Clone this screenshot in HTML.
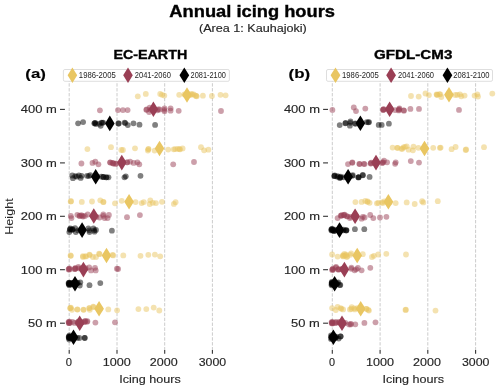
<!DOCTYPE html>
<html><head><meta charset="utf-8"><style>html,body{margin:0;padding:0;background:#fff;width:500px;height:390px;overflow:hidden}svg{display:block}</style></head>
<body>
<svg width="500" height="390" viewBox="0 0 500 390">
<rect width="500" height="390" fill="#ffffff"/>
<g opacity="0.999">
<line x1="69.2" y1="70" stroke-dashoffset="1.45" x2="69.2" y2="350" stroke="#cccccc" stroke-width="1" stroke-dasharray="3.4 1.485"/>
<line x1="69.2" y1="350" x2="69.2" y2="353.8" stroke="#333333" stroke-width="1.1"/>
<line x1="117.0" y1="70" stroke-dashoffset="1.45" x2="117.0" y2="350" stroke="#cccccc" stroke-width="1" stroke-dasharray="3.4 1.485"/>
<line x1="117.0" y1="350" x2="117.0" y2="353.8" stroke="#333333" stroke-width="1.1"/>
<line x1="164.7" y1="70" stroke-dashoffset="1.45" x2="164.7" y2="350" stroke="#cccccc" stroke-width="1" stroke-dasharray="3.4 1.485"/>
<line x1="164.7" y1="350" x2="164.7" y2="353.8" stroke="#333333" stroke-width="1.1"/>
<line x1="212.4" y1="70" stroke-dashoffset="1.45" x2="212.4" y2="350" stroke="#cccccc" stroke-width="1" stroke-dasharray="3.4 1.485"/>
<line x1="212.4" y1="350" x2="212.4" y2="353.8" stroke="#333333" stroke-width="1.1"/>
<line x1="60.0" y1="109.4" x2="64.9" y2="109.4" stroke="#333333" stroke-width="1.1"/>
<line x1="60.0" y1="162.9" x2="64.9" y2="162.9" stroke="#333333" stroke-width="1.1"/>
<line x1="60.0" y1="216.3" x2="64.9" y2="216.3" stroke="#333333" stroke-width="1.1"/>
<line x1="60.0" y1="269.7" x2="64.9" y2="269.7" stroke="#333333" stroke-width="1.1"/>
<line x1="60.0" y1="323.2" x2="64.9" y2="323.2" stroke="#333333" stroke-width="1.1"/>
<circle cx="185.30" cy="94.80" r="2.9" fill="#e9c662" fill-opacity="0.5"/>
<circle cx="188.30" cy="95.30" r="2.9" fill="#e9c662" fill-opacity="0.5"/>
<circle cx="192.30" cy="94.30" r="2.9" fill="#e9c662" fill-opacity="0.5"/>
<circle cx="196.30" cy="95.80" r="2.9" fill="#e9c662" fill-opacity="0.5"/>
<circle cx="190.30" cy="95.10" r="2.9" fill="#e9c662" fill-opacity="0.5"/>
<circle cx="137.80" cy="96.30" r="2.9" fill="#e9c662" fill-opacity="0.5"/>
<circle cx="145.80" cy="93.90" r="2.9" fill="#e9c662" fill-opacity="0.5"/>
<circle cx="160.20" cy="93.90" r="2.9" fill="#e9c662" fill-opacity="0.5"/>
<circle cx="162.00" cy="94.80" r="2.9" fill="#e9c662" fill-opacity="0.5"/>
<circle cx="164.30" cy="95.60" r="2.9" fill="#e9c662" fill-opacity="0.5"/>
<circle cx="179.20" cy="94.80" r="2.9" fill="#e9c662" fill-opacity="0.5"/>
<circle cx="184.40" cy="94.30" r="2.9" fill="#e9c662" fill-opacity="0.5"/>
<circle cx="191.20" cy="93.80" r="2.9" fill="#e9c662" fill-opacity="0.5"/>
<circle cx="193.70" cy="94.40" r="2.9" fill="#e9c662" fill-opacity="0.5"/>
<circle cx="195.50" cy="95.70" r="2.9" fill="#e9c662" fill-opacity="0.5"/>
<circle cx="196.70" cy="96.30" r="2.9" fill="#e9c662" fill-opacity="0.5"/>
<circle cx="202.90" cy="95.70" r="2.9" fill="#e9c662" fill-opacity="0.5"/>
<circle cx="211.90" cy="96.00" r="2.9" fill="#e9c662" fill-opacity="0.5"/>
<circle cx="220.50" cy="94.80" r="2.9" fill="#e9c662" fill-opacity="0.5"/>
<circle cx="225.60" cy="95.30" r="2.9" fill="#e9c662" fill-opacity="0.5"/>
<circle cx="146.30" cy="109.80" r="2.9" fill="#9a3f55" fill-opacity="0.5"/>
<circle cx="153.30" cy="109.80" r="2.9" fill="#9a3f55" fill-opacity="0.5"/>
<circle cx="158.30" cy="109.30" r="2.9" fill="#9a3f55" fill-opacity="0.5"/>
<circle cx="164.30" cy="109.80" r="2.9" fill="#9a3f55" fill-opacity="0.5"/>
<circle cx="157.30" cy="110.30" r="2.9" fill="#9a3f55" fill-opacity="0.5"/>
<circle cx="99.90" cy="110.30" r="2.9" fill="#9a3f55" fill-opacity="0.5"/>
<circle cx="150.80" cy="109.80" r="2.9" fill="#9a3f55" fill-opacity="0.5"/>
<circle cx="118.00" cy="110.10" r="2.9" fill="#9a3f55" fill-opacity="0.5"/>
<circle cx="122.90" cy="110.10" r="2.9" fill="#9a3f55" fill-opacity="0.5"/>
<circle cx="127.60" cy="110.10" r="2.9" fill="#9a3f55" fill-opacity="0.5"/>
<circle cx="146.70" cy="109.50" r="2.9" fill="#9a3f55" fill-opacity="0.5"/>
<circle cx="149.70" cy="107.70" r="2.9" fill="#9a3f55" fill-opacity="0.5"/>
<circle cx="149.10" cy="112.00" r="2.9" fill="#9a3f55" fill-opacity="0.5"/>
<circle cx="159.60" cy="109.50" r="2.9" fill="#9a3f55" fill-opacity="0.5"/>
<circle cx="164.50" cy="108.30" r="2.9" fill="#9a3f55" fill-opacity="0.5"/>
<circle cx="164.50" cy="111.30" r="2.9" fill="#9a3f55" fill-opacity="0.5"/>
<circle cx="170.60" cy="108.30" r="2.9" fill="#9a3f55" fill-opacity="0.5"/>
<circle cx="170.60" cy="110.70" r="2.9" fill="#9a3f55" fill-opacity="0.5"/>
<circle cx="178.70" cy="110.80" r="2.9" fill="#9a3f55" fill-opacity="0.5"/>
<circle cx="221.00" cy="111.00" r="2.9" fill="#9a3f55" fill-opacity="0.5"/>
<circle cx="94.30" cy="123.30" r="2.9" fill="#000000" fill-opacity="0.5"/>
<circle cx="99.30" cy="123.80" r="2.9" fill="#000000" fill-opacity="0.5"/>
<circle cx="102.30" cy="122.80" r="2.9" fill="#000000" fill-opacity="0.5"/>
<circle cx="110.30" cy="123.70" r="2.9" fill="#000000" fill-opacity="0.5"/>
<circle cx="118.30" cy="123.50" r="2.9" fill="#000000" fill-opacity="0.5"/>
<circle cx="78.10" cy="123.30" r="2.9" fill="#000000" fill-opacity="0.5"/>
<circle cx="83.10" cy="122.10" r="2.9" fill="#000000" fill-opacity="0.5"/>
<circle cx="94.80" cy="123.10" r="2.9" fill="#000000" fill-opacity="0.5"/>
<circle cx="95.80" cy="124.10" r="2.9" fill="#000000" fill-opacity="0.5"/>
<circle cx="95.30" cy="122.80" r="2.9" fill="#000000" fill-opacity="0.5"/>
<circle cx="101.40" cy="122.60" r="2.9" fill="#000000" fill-opacity="0.5"/>
<circle cx="100.70" cy="125.80" r="2.9" fill="#000000" fill-opacity="0.5"/>
<circle cx="103.20" cy="122.60" r="2.9" fill="#000000" fill-opacity="0.5"/>
<circle cx="118.80" cy="123.50" r="2.9" fill="#000000" fill-opacity="0.5"/>
<circle cx="124.60" cy="122.60" r="2.9" fill="#000000" fill-opacity="0.5"/>
<circle cx="125.30" cy="123.10" r="2.9" fill="#000000" fill-opacity="0.5"/>
<circle cx="127.80" cy="125.10" r="2.9" fill="#000000" fill-opacity="0.5"/>
<circle cx="133.50" cy="123.30" r="2.9" fill="#000000" fill-opacity="0.5"/>
<circle cx="139.50" cy="124.70" r="2.9" fill="#000000" fill-opacity="0.5"/>
<circle cx="155.10" cy="124.90" r="2.9" fill="#000000" fill-opacity="0.5"/>
<circle cx="148.30" cy="149.30" r="2.9" fill="#e9c662" fill-opacity="0.5"/>
<circle cx="159.80" cy="148.80" r="2.9" fill="#e9c662" fill-opacity="0.5"/>
<circle cx="179.30" cy="149.10" r="2.9" fill="#e9c662" fill-opacity="0.5"/>
<circle cx="87.40" cy="149.10" r="2.9" fill="#e9c662" fill-opacity="0.5"/>
<circle cx="111.00" cy="147.20" r="2.9" fill="#e9c662" fill-opacity="0.5"/>
<circle cx="121.30" cy="150.00" r="2.9" fill="#e9c662" fill-opacity="0.5"/>
<circle cx="122.90" cy="150.00" r="2.9" fill="#e9c662" fill-opacity="0.5"/>
<circle cx="135.00" cy="148.30" r="2.9" fill="#e9c662" fill-opacity="0.5"/>
<circle cx="148.50" cy="148.80" r="2.9" fill="#e9c662" fill-opacity="0.5"/>
<circle cx="147.90" cy="150.60" r="2.9" fill="#e9c662" fill-opacity="0.5"/>
<circle cx="154.60" cy="150.60" r="2.9" fill="#e9c662" fill-opacity="0.5"/>
<circle cx="168.20" cy="149.60" r="2.9" fill="#e9c662" fill-opacity="0.5"/>
<circle cx="173.70" cy="149.30" r="2.9" fill="#e9c662" fill-opacity="0.5"/>
<circle cx="175.20" cy="149.10" r="2.9" fill="#e9c662" fill-opacity="0.5"/>
<circle cx="177.70" cy="148.80" r="2.9" fill="#e9c662" fill-opacity="0.5"/>
<circle cx="180.10" cy="149.30" r="2.9" fill="#e9c662" fill-opacity="0.5"/>
<circle cx="182.60" cy="148.40" r="2.9" fill="#e9c662" fill-opacity="0.5"/>
<circle cx="201.00" cy="147.20" r="2.9" fill="#e9c662" fill-opacity="0.5"/>
<circle cx="204.10" cy="150.30" r="2.9" fill="#e9c662" fill-opacity="0.5"/>
<circle cx="208.40" cy="149.70" r="2.9" fill="#e9c662" fill-opacity="0.5"/>
<circle cx="110.30" cy="162.60" r="2.9" fill="#9a3f55" fill-opacity="0.5"/>
<circle cx="113.30" cy="163.30" r="2.9" fill="#9a3f55" fill-opacity="0.5"/>
<circle cx="116.30" cy="163.50" r="2.9" fill="#9a3f55" fill-opacity="0.5"/>
<circle cx="122.10" cy="162.90" r="2.9" fill="#9a3f55" fill-opacity="0.5"/>
<circle cx="127.30" cy="162.30" r="2.9" fill="#9a3f55" fill-opacity="0.5"/>
<circle cx="112.30" cy="162.80" r="2.9" fill="#9a3f55" fill-opacity="0.5"/>
<circle cx="81.40" cy="163.50" r="2.9" fill="#9a3f55" fill-opacity="0.5"/>
<circle cx="92.50" cy="162.90" r="2.9" fill="#9a3f55" fill-opacity="0.5"/>
<circle cx="95.30" cy="161.70" r="2.9" fill="#9a3f55" fill-opacity="0.5"/>
<circle cx="98.40" cy="164.30" r="2.9" fill="#9a3f55" fill-opacity="0.5"/>
<circle cx="110.10" cy="162.30" r="2.9" fill="#9a3f55" fill-opacity="0.5"/>
<circle cx="113.20" cy="163.50" r="2.9" fill="#9a3f55" fill-opacity="0.5"/>
<circle cx="115.60" cy="163.90" r="2.9" fill="#9a3f55" fill-opacity="0.5"/>
<circle cx="127.00" cy="162.30" r="2.9" fill="#9a3f55" fill-opacity="0.5"/>
<circle cx="130.10" cy="161.70" r="2.9" fill="#9a3f55" fill-opacity="0.5"/>
<circle cx="133.70" cy="162.90" r="2.9" fill="#9a3f55" fill-opacity="0.5"/>
<circle cx="137.40" cy="162.30" r="2.9" fill="#9a3f55" fill-opacity="0.5"/>
<circle cx="139.30" cy="164.30" r="2.9" fill="#9a3f55" fill-opacity="0.5"/>
<circle cx="173.20" cy="164.30" r="2.9" fill="#9a3f55" fill-opacity="0.5"/>
<circle cx="194.00" cy="162.00" r="2.9" fill="#9a3f55" fill-opacity="0.5"/>
<circle cx="103.30" cy="177.00" r="2.9" fill="#000000" fill-opacity="0.5"/>
<circle cx="106.30" cy="177.30" r="2.9" fill="#000000" fill-opacity="0.5"/>
<circle cx="96.00" cy="177.00" r="2.9" fill="#000000" fill-opacity="0.5"/>
<circle cx="72.30" cy="175.50" r="2.9" fill="#000000" fill-opacity="0.5"/>
<circle cx="72.90" cy="178.20" r="2.9" fill="#000000" fill-opacity="0.5"/>
<circle cx="75.30" cy="176.10" r="2.9" fill="#000000" fill-opacity="0.5"/>
<circle cx="76.80" cy="176.70" r="2.9" fill="#000000" fill-opacity="0.5"/>
<circle cx="78.90" cy="175.50" r="2.9" fill="#000000" fill-opacity="0.5"/>
<circle cx="80.70" cy="177.90" r="2.9" fill="#000000" fill-opacity="0.5"/>
<circle cx="81.60" cy="175.80" r="2.9" fill="#000000" fill-opacity="0.5"/>
<circle cx="87.00" cy="175.80" r="2.9" fill="#000000" fill-opacity="0.5"/>
<circle cx="88.80" cy="176.10" r="2.9" fill="#000000" fill-opacity="0.5"/>
<circle cx="90.30" cy="175.20" r="2.9" fill="#000000" fill-opacity="0.5"/>
<circle cx="101.30" cy="176.70" r="2.9" fill="#000000" fill-opacity="0.5"/>
<circle cx="103.40" cy="177.00" r="2.9" fill="#000000" fill-opacity="0.5"/>
<circle cx="106.40" cy="177.30" r="2.9" fill="#000000" fill-opacity="0.5"/>
<circle cx="108.50" cy="177.30" r="2.9" fill="#000000" fill-opacity="0.5"/>
<circle cx="124.50" cy="177.30" r="2.9" fill="#000000" fill-opacity="0.5"/>
<circle cx="125.80" cy="176.30" r="2.9" fill="#000000" fill-opacity="0.5"/>
<circle cx="140.50" cy="175.80" r="2.9" fill="#000000" fill-opacity="0.5"/>
<circle cx="71.10" cy="201.20" r="2.9" fill="#e9c662" fill-opacity="0.5"/>
<circle cx="81.80" cy="201.90" r="2.9" fill="#e9c662" fill-opacity="0.5"/>
<circle cx="92.00" cy="201.50" r="2.9" fill="#e9c662" fill-opacity="0.5"/>
<circle cx="100.30" cy="200.30" r="2.9" fill="#e9c662" fill-opacity="0.5"/>
<circle cx="103.30" cy="202.10" r="2.9" fill="#e9c662" fill-opacity="0.5"/>
<circle cx="115.00" cy="203.30" r="2.9" fill="#e9c662" fill-opacity="0.5"/>
<circle cx="121.70" cy="200.80" r="2.9" fill="#e9c662" fill-opacity="0.5"/>
<circle cx="135.60" cy="202.10" r="2.9" fill="#e9c662" fill-opacity="0.5"/>
<circle cx="141.70" cy="203.10" r="2.9" fill="#e9c662" fill-opacity="0.5"/>
<circle cx="143.80" cy="202.10" r="2.9" fill="#e9c662" fill-opacity="0.5"/>
<circle cx="150.30" cy="200.30" r="2.9" fill="#e9c662" fill-opacity="0.5"/>
<circle cx="149.70" cy="204.00" r="2.9" fill="#e9c662" fill-opacity="0.5"/>
<circle cx="152.80" cy="202.80" r="2.9" fill="#e9c662" fill-opacity="0.5"/>
<circle cx="155.90" cy="203.10" r="2.9" fill="#e9c662" fill-opacity="0.5"/>
<circle cx="162.00" cy="201.80" r="2.9" fill="#e9c662" fill-opacity="0.5"/>
<circle cx="173.90" cy="203.90" r="2.9" fill="#e9c662" fill-opacity="0.5"/>
<circle cx="175.60" cy="202.20" r="2.9" fill="#e9c662" fill-opacity="0.5"/>
<circle cx="70.70" cy="201.50" r="2.9" fill="#e9c662" fill-opacity="0.5"/>
<circle cx="103.50" cy="201.90" r="2.9" fill="#e9c662" fill-opacity="0.5"/>
<circle cx="129.30" cy="202.30" r="2.9" fill="#e9c662" fill-opacity="0.5"/>
<circle cx="70.80" cy="215.90" r="2.9" fill="#9a3f55" fill-opacity="0.5"/>
<circle cx="71.50" cy="218.10" r="2.9" fill="#9a3f55" fill-opacity="0.5"/>
<circle cx="77.30" cy="214.80" r="2.9" fill="#9a3f55" fill-opacity="0.5"/>
<circle cx="79.50" cy="215.90" r="2.9" fill="#9a3f55" fill-opacity="0.5"/>
<circle cx="81.30" cy="215.20" r="2.9" fill="#9a3f55" fill-opacity="0.5"/>
<circle cx="83.10" cy="216.60" r="2.9" fill="#9a3f55" fill-opacity="0.5"/>
<circle cx="84.90" cy="215.90" r="2.9" fill="#9a3f55" fill-opacity="0.5"/>
<circle cx="87.70" cy="214.50" r="2.9" fill="#9a3f55" fill-opacity="0.5"/>
<circle cx="99.60" cy="217.50" r="2.9" fill="#9a3f55" fill-opacity="0.5"/>
<circle cx="103.30" cy="214.40" r="2.9" fill="#9a3f55" fill-opacity="0.5"/>
<circle cx="104.60" cy="218.10" r="2.9" fill="#9a3f55" fill-opacity="0.5"/>
<circle cx="108.90" cy="215.00" r="2.9" fill="#9a3f55" fill-opacity="0.5"/>
<circle cx="107.60" cy="218.10" r="2.9" fill="#9a3f55" fill-opacity="0.5"/>
<circle cx="127.00" cy="217.20" r="2.9" fill="#9a3f55" fill-opacity="0.5"/>
<circle cx="139.90" cy="215.10" r="2.9" fill="#9a3f55" fill-opacity="0.5"/>
<circle cx="79.80" cy="215.80" r="2.9" fill="#9a3f55" fill-opacity="0.5"/>
<circle cx="82.30" cy="215.80" r="2.9" fill="#9a3f55" fill-opacity="0.5"/>
<circle cx="93.30" cy="216.30" r="2.9" fill="#9a3f55" fill-opacity="0.5"/>
<circle cx="96.30" cy="216.80" r="2.9" fill="#9a3f55" fill-opacity="0.5"/>
<circle cx="103.30" cy="215.80" r="2.9" fill="#9a3f55" fill-opacity="0.5"/>
<circle cx="77.90" cy="230.30" r="2.9" fill="#000000" fill-opacity="0.5"/>
<circle cx="69.30" cy="232.10" r="2.9" fill="#000000" fill-opacity="0.5"/>
<circle cx="70.40" cy="228.50" r="2.9" fill="#000000" fill-opacity="0.5"/>
<circle cx="72.20" cy="229.60" r="2.9" fill="#000000" fill-opacity="0.5"/>
<circle cx="75.10" cy="228.10" r="2.9" fill="#000000" fill-opacity="0.5"/>
<circle cx="75.80" cy="232.10" r="2.9" fill="#000000" fill-opacity="0.5"/>
<circle cx="88.40" cy="228.50" r="2.9" fill="#000000" fill-opacity="0.5"/>
<circle cx="89.50" cy="232.10" r="2.9" fill="#000000" fill-opacity="0.5"/>
<circle cx="93.40" cy="228.50" r="2.9" fill="#000000" fill-opacity="0.5"/>
<circle cx="94.50" cy="231.70" r="2.9" fill="#000000" fill-opacity="0.5"/>
<circle cx="96.00" cy="229.90" r="2.9" fill="#000000" fill-opacity="0.5"/>
<circle cx="111.90" cy="230.70" r="2.9" fill="#000000" fill-opacity="0.5"/>
<circle cx="69.80" cy="229.80" r="2.9" fill="#000000" fill-opacity="0.5"/>
<circle cx="70.20" cy="229.20" r="2.9" fill="#000000" fill-opacity="0.5"/>
<circle cx="72.30" cy="229.80" r="2.9" fill="#000000" fill-opacity="0.5"/>
<circle cx="72.70" cy="229.20" r="2.9" fill="#000000" fill-opacity="0.5"/>
<circle cx="82.30" cy="230.30" r="2.9" fill="#000000" fill-opacity="0.5"/>
<circle cx="82.70" cy="229.70" r="2.9" fill="#000000" fill-opacity="0.5"/>
<circle cx="89.30" cy="230.30" r="2.9" fill="#000000" fill-opacity="0.5"/>
<circle cx="94.30" cy="230.30" r="2.9" fill="#000000" fill-opacity="0.5"/>
<circle cx="70.80" cy="255.80" r="2.9" fill="#e9c662" fill-opacity="0.5"/>
<circle cx="83.00" cy="257.00" r="2.9" fill="#e9c662" fill-opacity="0.5"/>
<circle cx="86.10" cy="256.40" r="2.9" fill="#e9c662" fill-opacity="0.5"/>
<circle cx="89.80" cy="255.10" r="2.9" fill="#e9c662" fill-opacity="0.5"/>
<circle cx="92.90" cy="257.00" r="2.9" fill="#e9c662" fill-opacity="0.5"/>
<circle cx="96.00" cy="257.00" r="2.9" fill="#e9c662" fill-opacity="0.5"/>
<circle cx="99.60" cy="254.20" r="2.9" fill="#e9c662" fill-opacity="0.5"/>
<circle cx="113.20" cy="255.40" r="2.9" fill="#e9c662" fill-opacity="0.5"/>
<circle cx="123.30" cy="255.40" r="2.9" fill="#e9c662" fill-opacity="0.5"/>
<circle cx="140.50" cy="255.80" r="2.9" fill="#e9c662" fill-opacity="0.5"/>
<circle cx="148.30" cy="254.80" r="2.9" fill="#e9c662" fill-opacity="0.5"/>
<circle cx="154.90" cy="254.60" r="2.9" fill="#e9c662" fill-opacity="0.5"/>
<circle cx="160.20" cy="256.30" r="2.9" fill="#e9c662" fill-opacity="0.5"/>
<circle cx="70.60" cy="255.50" r="2.9" fill="#e9c662" fill-opacity="0.5"/>
<circle cx="82.90" cy="256.10" r="2.9" fill="#e9c662" fill-opacity="0.5"/>
<circle cx="89.40" cy="254.60" r="2.9" fill="#e9c662" fill-opacity="0.5"/>
<circle cx="99.10" cy="253.70" r="2.9" fill="#e9c662" fill-opacity="0.5"/>
<circle cx="106.30" cy="255.80" r="2.9" fill="#e9c662" fill-opacity="0.5"/>
<circle cx="112.60" cy="254.90" r="2.9" fill="#e9c662" fill-opacity="0.5"/>
<circle cx="85.30" cy="256.30" r="2.9" fill="#e9c662" fill-opacity="0.5"/>
<circle cx="75.30" cy="268.80" r="2.9" fill="#9a3f55" fill-opacity="0.5"/>
<circle cx="78.80" cy="268.30" r="2.9" fill="#9a3f55" fill-opacity="0.5"/>
<circle cx="69.00" cy="268.90" r="2.9" fill="#9a3f55" fill-opacity="0.5"/>
<circle cx="69.40" cy="268.30" r="2.9" fill="#9a3f55" fill-opacity="0.5"/>
<circle cx="68.60" cy="269.50" r="2.9" fill="#9a3f55" fill-opacity="0.5"/>
<circle cx="69.60" cy="269.40" r="2.9" fill="#9a3f55" fill-opacity="0.5"/>
<circle cx="75.00" cy="268.60" r="2.9" fill="#9a3f55" fill-opacity="0.5"/>
<circle cx="75.40" cy="268.00" r="2.9" fill="#9a3f55" fill-opacity="0.5"/>
<circle cx="74.60" cy="269.20" r="2.9" fill="#9a3f55" fill-opacity="0.5"/>
<circle cx="78.40" cy="267.00" r="2.9" fill="#9a3f55" fill-opacity="0.5"/>
<circle cx="81.30" cy="268.80" r="2.9" fill="#9a3f55" fill-opacity="0.5"/>
<circle cx="81.70" cy="268.20" r="2.9" fill="#9a3f55" fill-opacity="0.5"/>
<circle cx="85.30" cy="268.80" r="2.9" fill="#9a3f55" fill-opacity="0.5"/>
<circle cx="85.70" cy="268.20" r="2.9" fill="#9a3f55" fill-opacity="0.5"/>
<circle cx="89.20" cy="267.40" r="2.9" fill="#9a3f55" fill-opacity="0.5"/>
<circle cx="91.00" cy="270.40" r="2.9" fill="#9a3f55" fill-opacity="0.5"/>
<circle cx="95.00" cy="267.80" r="2.9" fill="#9a3f55" fill-opacity="0.5"/>
<circle cx="95.70" cy="270.40" r="2.9" fill="#9a3f55" fill-opacity="0.5"/>
<circle cx="116.90" cy="268.70" r="2.9" fill="#9a3f55" fill-opacity="0.5"/>
<circle cx="118.10" cy="269.00" r="2.9" fill="#9a3f55" fill-opacity="0.5"/>
<circle cx="69.30" cy="282.70" r="2.9" fill="#000000" fill-opacity="0.5"/>
<circle cx="69.30" cy="285.20" r="2.9" fill="#000000" fill-opacity="0.5"/>
<circle cx="72.30" cy="283.50" r="2.9" fill="#000000" fill-opacity="0.5"/>
<circle cx="80.30" cy="282.30" r="2.9" fill="#000000" fill-opacity="0.5"/>
<circle cx="79.80" cy="285.60" r="2.9" fill="#000000" fill-opacity="0.5"/>
<circle cx="89.50" cy="285.20" r="2.9" fill="#000000" fill-opacity="0.5"/>
<circle cx="100.30" cy="283.10" r="2.9" fill="#000000" fill-opacity="0.5"/>
<circle cx="69.10" cy="283.50" r="2.9" fill="#000000" fill-opacity="0.5"/>
<circle cx="69.50" cy="282.90" r="2.9" fill="#000000" fill-opacity="0.5"/>
<circle cx="68.70" cy="284.10" r="2.9" fill="#000000" fill-opacity="0.5"/>
<circle cx="69.70" cy="284.00" r="2.9" fill="#000000" fill-opacity="0.5"/>
<circle cx="68.60" cy="283.00" r="2.9" fill="#000000" fill-opacity="0.5"/>
<circle cx="69.30" cy="284.40" r="2.9" fill="#000000" fill-opacity="0.5"/>
<circle cx="71.30" cy="283.80" r="2.9" fill="#000000" fill-opacity="0.5"/>
<circle cx="71.70" cy="283.20" r="2.9" fill="#000000" fill-opacity="0.5"/>
<circle cx="70.90" cy="284.40" r="2.9" fill="#000000" fill-opacity="0.5"/>
<circle cx="73.30" cy="283.30" r="2.9" fill="#000000" fill-opacity="0.5"/>
<circle cx="73.70" cy="282.70" r="2.9" fill="#000000" fill-opacity="0.5"/>
<circle cx="77.30" cy="283.30" r="2.9" fill="#000000" fill-opacity="0.5"/>
<circle cx="77.70" cy="282.70" r="2.9" fill="#000000" fill-opacity="0.5"/>
<circle cx="70.10" cy="308.10" r="2.9" fill="#e9c662" fill-opacity="0.5"/>
<circle cx="72.00" cy="309.80" r="2.9" fill="#e9c662" fill-opacity="0.5"/>
<circle cx="77.50" cy="309.60" r="2.9" fill="#e9c662" fill-opacity="0.5"/>
<circle cx="83.70" cy="309.80" r="2.9" fill="#e9c662" fill-opacity="0.5"/>
<circle cx="89.20" cy="308.10" r="2.9" fill="#e9c662" fill-opacity="0.5"/>
<circle cx="89.80" cy="309.80" r="2.9" fill="#e9c662" fill-opacity="0.5"/>
<circle cx="93.50" cy="307.10" r="2.9" fill="#e9c662" fill-opacity="0.5"/>
<circle cx="108.30" cy="309.40" r="2.9" fill="#e9c662" fill-opacity="0.5"/>
<circle cx="117.10" cy="310.30" r="2.9" fill="#e9c662" fill-opacity="0.5"/>
<circle cx="138.40" cy="309.10" r="2.9" fill="#e9c662" fill-opacity="0.5"/>
<circle cx="146.30" cy="309.10" r="2.9" fill="#e9c662" fill-opacity="0.5"/>
<circle cx="153.70" cy="307.60" r="2.9" fill="#e9c662" fill-opacity="0.5"/>
<circle cx="159.30" cy="310.50" r="2.9" fill="#e9c662" fill-opacity="0.5"/>
<circle cx="70.50" cy="308.20" r="2.9" fill="#e9c662" fill-opacity="0.5"/>
<circle cx="70.90" cy="307.60" r="2.9" fill="#e9c662" fill-opacity="0.5"/>
<circle cx="83.40" cy="309.60" r="2.9" fill="#e9c662" fill-opacity="0.5"/>
<circle cx="89.40" cy="308.10" r="2.9" fill="#e9c662" fill-opacity="0.5"/>
<circle cx="93.20" cy="306.60" r="2.9" fill="#e9c662" fill-opacity="0.5"/>
<circle cx="77.30" cy="309.30" r="2.9" fill="#e9c662" fill-opacity="0.5"/>
<circle cx="100.30" cy="308.80" r="2.9" fill="#e9c662" fill-opacity="0.5"/>
<circle cx="69.10" cy="322.30" r="2.9" fill="#9a3f55" fill-opacity="0.5"/>
<circle cx="69.50" cy="321.70" r="2.9" fill="#9a3f55" fill-opacity="0.5"/>
<circle cx="68.70" cy="322.90" r="2.9" fill="#9a3f55" fill-opacity="0.5"/>
<circle cx="69.70" cy="322.80" r="2.9" fill="#9a3f55" fill-opacity="0.5"/>
<circle cx="68.60" cy="321.80" r="2.9" fill="#9a3f55" fill-opacity="0.5"/>
<circle cx="69.30" cy="323.20" r="2.9" fill="#9a3f55" fill-opacity="0.5"/>
<circle cx="72.60" cy="321.80" r="2.9" fill="#9a3f55" fill-opacity="0.5"/>
<circle cx="74.40" cy="322.90" r="2.9" fill="#9a3f55" fill-opacity="0.5"/>
<circle cx="78.00" cy="322.10" r="2.9" fill="#9a3f55" fill-opacity="0.5"/>
<circle cx="78.40" cy="321.50" r="2.9" fill="#9a3f55" fill-opacity="0.5"/>
<circle cx="77.60" cy="322.70" r="2.9" fill="#9a3f55" fill-opacity="0.5"/>
<circle cx="81.30" cy="322.60" r="2.9" fill="#9a3f55" fill-opacity="0.5"/>
<circle cx="81.70" cy="322.00" r="2.9" fill="#9a3f55" fill-opacity="0.5"/>
<circle cx="84.90" cy="321.50" r="2.9" fill="#9a3f55" fill-opacity="0.5"/>
<circle cx="85.30" cy="320.90" r="2.9" fill="#9a3f55" fill-opacity="0.5"/>
<circle cx="84.50" cy="322.10" r="2.9" fill="#9a3f55" fill-opacity="0.5"/>
<circle cx="87.00" cy="321.80" r="2.9" fill="#9a3f55" fill-opacity="0.5"/>
<circle cx="87.40" cy="321.20" r="2.9" fill="#9a3f55" fill-opacity="0.5"/>
<circle cx="95.40" cy="322.60" r="2.9" fill="#9a3f55" fill-opacity="0.5"/>
<circle cx="115.00" cy="322.30" r="2.9" fill="#9a3f55" fill-opacity="0.5"/>
<circle cx="69.50" cy="335.30" r="2.9" fill="#000000" fill-opacity="0.5"/>
<circle cx="69.20" cy="339.50" r="2.9" fill="#000000" fill-opacity="0.5"/>
<circle cx="70.70" cy="337.10" r="2.9" fill="#000000" fill-opacity="0.5"/>
<circle cx="79.40" cy="338.00" r="2.9" fill="#000000" fill-opacity="0.5"/>
<circle cx="84.80" cy="338.00" r="2.9" fill="#000000" fill-opacity="0.5"/>
<circle cx="84.60" cy="337.80" r="2.9" fill="#000000" fill-opacity="0.5"/>
<circle cx="69.20" cy="337.30" r="2.9" fill="#000000" fill-opacity="0.5"/>
<circle cx="69.60" cy="336.70" r="2.9" fill="#000000" fill-opacity="0.5"/>
<circle cx="68.80" cy="337.90" r="2.9" fill="#000000" fill-opacity="0.5"/>
<circle cx="69.80" cy="337.80" r="2.9" fill="#000000" fill-opacity="0.5"/>
<circle cx="68.70" cy="336.80" r="2.9" fill="#000000" fill-opacity="0.5"/>
<circle cx="69.40" cy="338.20" r="2.9" fill="#000000" fill-opacity="0.5"/>
<circle cx="69.00" cy="336.40" r="2.9" fill="#000000" fill-opacity="0.5"/>
<circle cx="70.00" cy="337.30" r="2.9" fill="#000000" fill-opacity="0.5"/>
<circle cx="71.30" cy="337.30" r="2.9" fill="#000000" fill-opacity="0.5"/>
<circle cx="71.70" cy="336.70" r="2.9" fill="#000000" fill-opacity="0.5"/>
<circle cx="70.90" cy="337.90" r="2.9" fill="#000000" fill-opacity="0.5"/>
<circle cx="74.30" cy="337.80" r="2.9" fill="#000000" fill-opacity="0.5"/>
<circle cx="74.70" cy="337.20" r="2.9" fill="#000000" fill-opacity="0.5"/>
<circle cx="77.30" cy="337.80" r="2.9" fill="#000000" fill-opacity="0.5"/>
<path d="M187.0 87.2L191.8 95.0L187.0 102.8L182.2 95.0Z" fill="#e9c662"/>
<path d="M153.4 101.4L158.2 109.2L153.4 117.0L148.6 109.2Z" fill="#9a3f55"/>
<path d="M109.8 115.6L114.6 123.4L109.8 131.2L105.0 123.4Z" fill="#000000"/>
<path d="M159.5 140.7L164.3 148.5L159.5 156.3L154.7 148.5Z" fill="#e9c662"/>
<path d="M121.8 154.8L126.6 162.6L121.8 170.4L117.0 162.6Z" fill="#9a3f55"/>
<path d="M95.7 168.9L100.5 176.7L95.7 184.5L90.9 176.7Z" fill="#000000"/>
<path d="M129.1 194.0L133.9 201.8L129.1 209.6L124.2 201.8Z" fill="#e9c662"/>
<path d="M93.8 208.2L98.6 216.0L93.8 223.8L89.0 216.0Z" fill="#9a3f55"/>
<path d="M82.1 222.3L86.9 230.1L82.1 237.9L77.2 230.1Z" fill="#000000"/>
<path d="M106.5 247.7L111.3 255.5L106.5 263.3L101.7 255.5Z" fill="#e9c662"/>
<path d="M83.4 261.8L88.2 269.6L83.4 277.4L78.6 269.6Z" fill="#9a3f55"/>
<path d="M75.0 275.9L79.8 283.7L75.0 291.5L70.2 283.7Z" fill="#000000"/>
<path d="M99.1 301.0L103.9 308.8L99.1 316.6L94.2 308.8Z" fill="#e9c662"/>
<path d="M79.7 315.4L84.5 323.2L79.7 331.0L74.9 323.2Z" fill="#9a3f55"/>
<path d="M73.5 329.5L78.3 337.3L73.5 345.1L68.7 337.3Z" fill="#000000"/>
<rect x="63.4" y="69.5" width="166" height="11.8" rx="1.5" fill="#ffffff" fill-opacity="1" stroke="#d6d6d6" stroke-width="0.8"/>
<path d="M72.4 67.4L77.2 75.2L72.4 83.0L67.6 75.2Z" fill="#e9c662"/>
<path d="M128.0 67.4L132.8 75.2L128.0 83.0L123.2 75.2Z" fill="#9a3f55"/>
<path d="M184.3 67.4L189.2 75.2L184.3 83.0L179.5 75.2Z" fill="#000000"/>
<line x1="332.3" y1="70" stroke-dashoffset="1.45" x2="332.3" y2="350" stroke="#cccccc" stroke-width="1" stroke-dasharray="3.4 1.485"/>
<line x1="332.3" y1="350" x2="332.3" y2="353.8" stroke="#333333" stroke-width="1.1"/>
<line x1="380.1" y1="70" stroke-dashoffset="1.45" x2="380.1" y2="350" stroke="#cccccc" stroke-width="1" stroke-dasharray="3.4 1.485"/>
<line x1="380.1" y1="350" x2="380.1" y2="353.8" stroke="#333333" stroke-width="1.1"/>
<line x1="427.8" y1="70" stroke-dashoffset="1.45" x2="427.8" y2="350" stroke="#cccccc" stroke-width="1" stroke-dasharray="3.4 1.485"/>
<line x1="427.8" y1="350" x2="427.8" y2="353.8" stroke="#333333" stroke-width="1.1"/>
<line x1="475.6" y1="70" stroke-dashoffset="1.45" x2="475.6" y2="350" stroke="#cccccc" stroke-width="1" stroke-dasharray="3.4 1.485"/>
<line x1="475.6" y1="350" x2="475.6" y2="353.8" stroke="#333333" stroke-width="1.1"/>
<line x1="323.1" y1="109.4" x2="328.0" y2="109.4" stroke="#333333" stroke-width="1.1"/>
<line x1="323.1" y1="162.9" x2="328.0" y2="162.9" stroke="#333333" stroke-width="1.1"/>
<line x1="323.1" y1="216.3" x2="328.0" y2="216.3" stroke="#333333" stroke-width="1.1"/>
<line x1="323.1" y1="269.7" x2="328.0" y2="269.7" stroke="#333333" stroke-width="1.1"/>
<line x1="323.1" y1="323.2" x2="328.0" y2="323.2" stroke="#333333" stroke-width="1.1"/>
<circle cx="437.30" cy="94.80" r="2.9" fill="#e9c662" fill-opacity="0.5"/>
<circle cx="440.30" cy="94.30" r="2.9" fill="#e9c662" fill-opacity="0.5"/>
<circle cx="449.30" cy="95.00" r="2.9" fill="#e9c662" fill-opacity="0.5"/>
<circle cx="457.30" cy="94.80" r="2.9" fill="#e9c662" fill-opacity="0.5"/>
<circle cx="411.00" cy="96.00" r="2.9" fill="#e9c662" fill-opacity="0.5"/>
<circle cx="418.70" cy="96.60" r="2.9" fill="#e9c662" fill-opacity="0.5"/>
<circle cx="425.50" cy="93.50" r="2.9" fill="#e9c662" fill-opacity="0.5"/>
<circle cx="428.90" cy="95.10" r="2.9" fill="#e9c662" fill-opacity="0.5"/>
<circle cx="436.90" cy="94.80" r="2.9" fill="#e9c662" fill-opacity="0.5"/>
<circle cx="439.30" cy="94.10" r="2.9" fill="#e9c662" fill-opacity="0.5"/>
<circle cx="436.60" cy="94.30" r="2.9" fill="#e9c662" fill-opacity="0.5"/>
<circle cx="441.30" cy="97.00" r="2.9" fill="#e9c662" fill-opacity="0.5"/>
<circle cx="455.30" cy="95.00" r="2.9" fill="#e9c662" fill-opacity="0.5"/>
<circle cx="460.00" cy="94.30" r="2.9" fill="#e9c662" fill-opacity="0.5"/>
<circle cx="461.30" cy="96.30" r="2.9" fill="#e9c662" fill-opacity="0.5"/>
<circle cx="464.60" cy="95.60" r="2.9" fill="#e9c662" fill-opacity="0.5"/>
<circle cx="474.60" cy="95.60" r="2.9" fill="#e9c662" fill-opacity="0.5"/>
<circle cx="477.30" cy="94.30" r="2.9" fill="#e9c662" fill-opacity="0.5"/>
<circle cx="478.00" cy="96.60" r="2.9" fill="#e9c662" fill-opacity="0.5"/>
<circle cx="492.30" cy="93.60" r="2.9" fill="#e9c662" fill-opacity="0.5"/>
<circle cx="383.30" cy="109.80" r="2.9" fill="#9a3f55" fill-opacity="0.5"/>
<circle cx="383.70" cy="109.20" r="2.9" fill="#9a3f55" fill-opacity="0.5"/>
<circle cx="390.30" cy="109.30" r="2.9" fill="#9a3f55" fill-opacity="0.5"/>
<circle cx="390.70" cy="108.70" r="2.9" fill="#9a3f55" fill-opacity="0.5"/>
<circle cx="398.80" cy="109.80" r="2.9" fill="#9a3f55" fill-opacity="0.5"/>
<circle cx="399.20" cy="109.20" r="2.9" fill="#9a3f55" fill-opacity="0.5"/>
<circle cx="403.80" cy="110.30" r="2.9" fill="#9a3f55" fill-opacity="0.5"/>
<circle cx="332.40" cy="109.90" r="2.9" fill="#9a3f55" fill-opacity="0.5"/>
<circle cx="353.80" cy="107.40" r="2.9" fill="#9a3f55" fill-opacity="0.5"/>
<circle cx="356.00" cy="111.10" r="2.9" fill="#9a3f55" fill-opacity="0.5"/>
<circle cx="365.30" cy="108.60" r="2.9" fill="#9a3f55" fill-opacity="0.5"/>
<circle cx="383.10" cy="109.90" r="2.9" fill="#9a3f55" fill-opacity="0.5"/>
<circle cx="383.40" cy="109.50" r="2.9" fill="#9a3f55" fill-opacity="0.5"/>
<circle cx="395.10" cy="110.10" r="2.9" fill="#9a3f55" fill-opacity="0.5"/>
<circle cx="399.40" cy="108.30" r="2.9" fill="#9a3f55" fill-opacity="0.5"/>
<circle cx="398.70" cy="110.40" r="2.9" fill="#9a3f55" fill-opacity="0.5"/>
<circle cx="403.90" cy="110.70" r="2.9" fill="#9a3f55" fill-opacity="0.5"/>
<circle cx="410.40" cy="108.90" r="2.9" fill="#9a3f55" fill-opacity="0.5"/>
<circle cx="419.00" cy="108.90" r="2.9" fill="#9a3f55" fill-opacity="0.5"/>
<circle cx="459.00" cy="109.90" r="2.9" fill="#9a3f55" fill-opacity="0.5"/>
<circle cx="345.30" cy="123.30" r="2.9" fill="#000000" fill-opacity="0.5"/>
<circle cx="350.30" cy="122.80" r="2.9" fill="#000000" fill-opacity="0.5"/>
<circle cx="355.30" cy="123.80" r="2.9" fill="#000000" fill-opacity="0.5"/>
<circle cx="360.30" cy="123.30" r="2.9" fill="#000000" fill-opacity="0.5"/>
<circle cx="360.70" cy="122.70" r="2.9" fill="#000000" fill-opacity="0.5"/>
<circle cx="359.90" cy="123.90" r="2.9" fill="#000000" fill-opacity="0.5"/>
<circle cx="360.90" cy="123.80" r="2.9" fill="#000000" fill-opacity="0.5"/>
<circle cx="359.80" cy="122.80" r="2.9" fill="#000000" fill-opacity="0.5"/>
<circle cx="368.30" cy="122.30" r="2.9" fill="#000000" fill-opacity="0.5"/>
<circle cx="339.70" cy="125.10" r="2.9" fill="#000000" fill-opacity="0.5"/>
<circle cx="345.70" cy="122.90" r="2.9" fill="#000000" fill-opacity="0.5"/>
<circle cx="350.50" cy="121.50" r="2.9" fill="#000000" fill-opacity="0.5"/>
<circle cx="349.90" cy="125.70" r="2.9" fill="#000000" fill-opacity="0.5"/>
<circle cx="355.30" cy="123.30" r="2.9" fill="#000000" fill-opacity="0.5"/>
<circle cx="366.70" cy="122.10" r="2.9" fill="#000000" fill-opacity="0.5"/>
<circle cx="369.10" cy="122.10" r="2.9" fill="#000000" fill-opacity="0.5"/>
<circle cx="378.70" cy="124.90" r="2.9" fill="#000000" fill-opacity="0.5"/>
<circle cx="381.70" cy="124.90" r="2.9" fill="#000000" fill-opacity="0.5"/>
<circle cx="388.90" cy="123.70" r="2.9" fill="#000000" fill-opacity="0.5"/>
<circle cx="397.30" cy="147.80" r="2.9" fill="#e9c662" fill-opacity="0.5"/>
<circle cx="403.30" cy="147.30" r="2.9" fill="#e9c662" fill-opacity="0.5"/>
<circle cx="401.30" cy="148.80" r="2.9" fill="#e9c662" fill-opacity="0.5"/>
<circle cx="392.60" cy="147.60" r="2.9" fill="#e9c662" fill-opacity="0.5"/>
<circle cx="397.50" cy="147.80" r="2.9" fill="#e9c662" fill-opacity="0.5"/>
<circle cx="402.40" cy="148.80" r="2.9" fill="#e9c662" fill-opacity="0.5"/>
<circle cx="404.90" cy="146.80" r="2.9" fill="#e9c662" fill-opacity="0.5"/>
<circle cx="406.70" cy="146.30" r="2.9" fill="#e9c662" fill-opacity="0.5"/>
<circle cx="408.60" cy="149.70" r="2.9" fill="#e9c662" fill-opacity="0.5"/>
<circle cx="413.50" cy="146.60" r="2.9" fill="#e9c662" fill-opacity="0.5"/>
<circle cx="412.90" cy="150.30" r="2.9" fill="#e9c662" fill-opacity="0.5"/>
<circle cx="418.40" cy="147.80" r="2.9" fill="#e9c662" fill-opacity="0.5"/>
<circle cx="433.20" cy="147.80" r="2.9" fill="#e9c662" fill-opacity="0.5"/>
<circle cx="439.90" cy="147.80" r="2.9" fill="#e9c662" fill-opacity="0.5"/>
<circle cx="440.60" cy="147.60" r="2.9" fill="#e9c662" fill-opacity="0.5"/>
<circle cx="451.60" cy="149.20" r="2.9" fill="#e9c662" fill-opacity="0.5"/>
<circle cx="455.60" cy="147.00" r="2.9" fill="#e9c662" fill-opacity="0.5"/>
<circle cx="465.70" cy="150.00" r="2.9" fill="#e9c662" fill-opacity="0.5"/>
<circle cx="466.10" cy="149.50" r="2.9" fill="#e9c662" fill-opacity="0.5"/>
<circle cx="484.00" cy="147.20" r="2.9" fill="#e9c662" fill-opacity="0.5"/>
<circle cx="359.30" cy="163.80" r="2.9" fill="#9a3f55" fill-opacity="0.5"/>
<circle cx="363.80" cy="163.80" r="2.9" fill="#9a3f55" fill-opacity="0.5"/>
<circle cx="370.80" cy="163.30" r="2.9" fill="#9a3f55" fill-opacity="0.5"/>
<circle cx="371.20" cy="162.70" r="2.9" fill="#9a3f55" fill-opacity="0.5"/>
<circle cx="376.30" cy="162.80" r="2.9" fill="#9a3f55" fill-opacity="0.5"/>
<circle cx="383.30" cy="162.30" r="2.9" fill="#9a3f55" fill-opacity="0.5"/>
<circle cx="352.30" cy="162.80" r="2.9" fill="#9a3f55" fill-opacity="0.5"/>
<circle cx="348.00" cy="164.10" r="2.9" fill="#9a3f55" fill-opacity="0.5"/>
<circle cx="352.30" cy="162.30" r="2.9" fill="#9a3f55" fill-opacity="0.5"/>
<circle cx="359.70" cy="164.10" r="2.9" fill="#9a3f55" fill-opacity="0.5"/>
<circle cx="364.60" cy="164.10" r="2.9" fill="#9a3f55" fill-opacity="0.5"/>
<circle cx="370.80" cy="163.50" r="2.9" fill="#9a3f55" fill-opacity="0.5"/>
<circle cx="382.50" cy="162.30" r="2.9" fill="#9a3f55" fill-opacity="0.5"/>
<circle cx="382.10" cy="163.20" r="2.9" fill="#9a3f55" fill-opacity="0.5"/>
<circle cx="384.00" cy="160.70" r="2.9" fill="#9a3f55" fill-opacity="0.5"/>
<circle cx="387.10" cy="162.30" r="2.9" fill="#9a3f55" fill-opacity="0.5"/>
<circle cx="395.10" cy="163.80" r="2.9" fill="#9a3f55" fill-opacity="0.5"/>
<circle cx="395.70" cy="162.30" r="2.9" fill="#9a3f55" fill-opacity="0.5"/>
<circle cx="410.80" cy="161.10" r="2.9" fill="#9a3f55" fill-opacity="0.5"/>
<circle cx="419.00" cy="162.60" r="2.9" fill="#9a3f55" fill-opacity="0.5"/>
<circle cx="334.30" cy="176.10" r="2.9" fill="#000000" fill-opacity="0.5"/>
<circle cx="334.70" cy="175.50" r="2.9" fill="#000000" fill-opacity="0.5"/>
<circle cx="337.30" cy="176.80" r="2.9" fill="#000000" fill-opacity="0.5"/>
<circle cx="337.70" cy="176.20" r="2.9" fill="#000000" fill-opacity="0.5"/>
<circle cx="340.30" cy="177.30" r="2.9" fill="#000000" fill-opacity="0.5"/>
<circle cx="340.70" cy="176.70" r="2.9" fill="#000000" fill-opacity="0.5"/>
<circle cx="348.30" cy="177.00" r="2.9" fill="#000000" fill-opacity="0.5"/>
<circle cx="348.70" cy="176.40" r="2.9" fill="#000000" fill-opacity="0.5"/>
<circle cx="352.30" cy="175.80" r="2.9" fill="#000000" fill-opacity="0.5"/>
<circle cx="358.30" cy="177.30" r="2.9" fill="#000000" fill-opacity="0.5"/>
<circle cx="362.80" cy="175.30" r="2.9" fill="#000000" fill-opacity="0.5"/>
<circle cx="334.50" cy="176.00" r="2.9" fill="#000000" fill-opacity="0.5"/>
<circle cx="339.80" cy="177.90" r="2.9" fill="#000000" fill-opacity="0.5"/>
<circle cx="340.10" cy="177.60" r="2.9" fill="#000000" fill-opacity="0.5"/>
<circle cx="343.70" cy="177.30" r="2.9" fill="#000000" fill-opacity="0.5"/>
<circle cx="352.80" cy="175.20" r="2.9" fill="#000000" fill-opacity="0.5"/>
<circle cx="358.50" cy="177.40" r="2.9" fill="#000000" fill-opacity="0.5"/>
<circle cx="358.80" cy="177.10" r="2.9" fill="#000000" fill-opacity="0.5"/>
<circle cx="362.80" cy="175.00" r="2.9" fill="#000000" fill-opacity="0.5"/>
<circle cx="369.60" cy="176.90" r="2.9" fill="#000000" fill-opacity="0.5"/>
<circle cx="367.30" cy="201.80" r="2.9" fill="#e9c662" fill-opacity="0.5"/>
<circle cx="378.30" cy="202.80" r="2.9" fill="#e9c662" fill-opacity="0.5"/>
<circle cx="388.30" cy="202.30" r="2.9" fill="#e9c662" fill-opacity="0.5"/>
<circle cx="387.30" cy="201.80" r="2.9" fill="#e9c662" fill-opacity="0.5"/>
<circle cx="389.80" cy="202.60" r="2.9" fill="#e9c662" fill-opacity="0.5"/>
<circle cx="355.40" cy="202.10" r="2.9" fill="#e9c662" fill-opacity="0.5"/>
<circle cx="361.60" cy="201.90" r="2.9" fill="#e9c662" fill-opacity="0.5"/>
<circle cx="365.30" cy="200.90" r="2.9" fill="#e9c662" fill-opacity="0.5"/>
<circle cx="367.70" cy="201.50" r="2.9" fill="#e9c662" fill-opacity="0.5"/>
<circle cx="369.60" cy="202.80" r="2.9" fill="#e9c662" fill-opacity="0.5"/>
<circle cx="376.90" cy="203.30" r="2.9" fill="#e9c662" fill-opacity="0.5"/>
<circle cx="381.90" cy="202.30" r="2.9" fill="#e9c662" fill-opacity="0.5"/>
<circle cx="384.30" cy="201.50" r="2.9" fill="#e9c662" fill-opacity="0.5"/>
<circle cx="382.80" cy="203.10" r="2.9" fill="#e9c662" fill-opacity="0.5"/>
<circle cx="395.70" cy="203.10" r="2.9" fill="#e9c662" fill-opacity="0.5"/>
<circle cx="406.70" cy="202.40" r="2.9" fill="#e9c662" fill-opacity="0.5"/>
<circle cx="414.70" cy="204.00" r="2.9" fill="#e9c662" fill-opacity="0.5"/>
<circle cx="422.10" cy="201.20" r="2.9" fill="#e9c662" fill-opacity="0.5"/>
<circle cx="423.30" cy="202.40" r="2.9" fill="#e9c662" fill-opacity="0.5"/>
<circle cx="437.80" cy="201.20" r="2.9" fill="#e9c662" fill-opacity="0.5"/>
<circle cx="337.60" cy="218.10" r="2.9" fill="#9a3f55" fill-opacity="0.5"/>
<circle cx="340.70" cy="215.70" r="2.9" fill="#9a3f55" fill-opacity="0.5"/>
<circle cx="343.70" cy="215.00" r="2.9" fill="#9a3f55" fill-opacity="0.5"/>
<circle cx="346.80" cy="216.30" r="2.9" fill="#9a3f55" fill-opacity="0.5"/>
<circle cx="349.90" cy="218.10" r="2.9" fill="#9a3f55" fill-opacity="0.5"/>
<circle cx="361.60" cy="218.70" r="2.9" fill="#9a3f55" fill-opacity="0.5"/>
<circle cx="364.60" cy="217.50" r="2.9" fill="#9a3f55" fill-opacity="0.5"/>
<circle cx="370.20" cy="215.00" r="2.9" fill="#9a3f55" fill-opacity="0.5"/>
<circle cx="373.30" cy="218.10" r="2.9" fill="#9a3f55" fill-opacity="0.5"/>
<circle cx="380.00" cy="217.50" r="2.9" fill="#9a3f55" fill-opacity="0.5"/>
<circle cx="386.40" cy="216.80" r="2.9" fill="#9a3f55" fill-opacity="0.5"/>
<circle cx="341.30" cy="215.80" r="2.9" fill="#9a3f55" fill-opacity="0.5"/>
<circle cx="341.70" cy="215.20" r="2.9" fill="#9a3f55" fill-opacity="0.5"/>
<circle cx="344.30" cy="215.30" r="2.9" fill="#9a3f55" fill-opacity="0.5"/>
<circle cx="344.70" cy="214.70" r="2.9" fill="#9a3f55" fill-opacity="0.5"/>
<circle cx="347.30" cy="216.30" r="2.9" fill="#9a3f55" fill-opacity="0.5"/>
<circle cx="350.30" cy="216.80" r="2.9" fill="#9a3f55" fill-opacity="0.5"/>
<circle cx="355.30" cy="216.60" r="2.9" fill="#9a3f55" fill-opacity="0.5"/>
<circle cx="355.70" cy="216.00" r="2.9" fill="#9a3f55" fill-opacity="0.5"/>
<circle cx="362.80" cy="216.80" r="2.9" fill="#9a3f55" fill-opacity="0.5"/>
<circle cx="331.80" cy="229.80" r="2.9" fill="#000000" fill-opacity="0.5"/>
<circle cx="332.20" cy="229.20" r="2.9" fill="#000000" fill-opacity="0.5"/>
<circle cx="331.40" cy="230.40" r="2.9" fill="#000000" fill-opacity="0.5"/>
<circle cx="332.40" cy="230.30" r="2.9" fill="#000000" fill-opacity="0.5"/>
<circle cx="331.30" cy="229.30" r="2.9" fill="#000000" fill-opacity="0.5"/>
<circle cx="334.30" cy="230.30" r="2.9" fill="#000000" fill-opacity="0.5"/>
<circle cx="334.70" cy="229.70" r="2.9" fill="#000000" fill-opacity="0.5"/>
<circle cx="333.90" cy="230.90" r="2.9" fill="#000000" fill-opacity="0.5"/>
<circle cx="338.30" cy="230.30" r="2.9" fill="#000000" fill-opacity="0.5"/>
<circle cx="338.70" cy="229.70" r="2.9" fill="#000000" fill-opacity="0.5"/>
<circle cx="343.30" cy="230.30" r="2.9" fill="#000000" fill-opacity="0.5"/>
<circle cx="343.70" cy="229.70" r="2.9" fill="#000000" fill-opacity="0.5"/>
<circle cx="346.30" cy="230.30" r="2.9" fill="#000000" fill-opacity="0.5"/>
<circle cx="332.00" cy="228.80" r="2.9" fill="#000000" fill-opacity="0.5"/>
<circle cx="334.20" cy="231.00" r="2.9" fill="#000000" fill-opacity="0.5"/>
<circle cx="333.10" cy="230.10" r="2.9" fill="#000000" fill-opacity="0.5"/>
<circle cx="346.50" cy="230.10" r="2.9" fill="#000000" fill-opacity="0.5"/>
<circle cx="346.10" cy="230.60" r="2.9" fill="#000000" fill-opacity="0.5"/>
<circle cx="354.90" cy="229.20" r="2.9" fill="#000000" fill-opacity="0.5"/>
<circle cx="364.30" cy="229.20" r="2.9" fill="#000000" fill-opacity="0.5"/>
<circle cx="342.80" cy="255.80" r="2.9" fill="#e9c662" fill-opacity="0.5"/>
<circle cx="343.20" cy="255.20" r="2.9" fill="#e9c662" fill-opacity="0.5"/>
<circle cx="345.80" cy="255.30" r="2.9" fill="#e9c662" fill-opacity="0.5"/>
<circle cx="346.20" cy="254.70" r="2.9" fill="#e9c662" fill-opacity="0.5"/>
<circle cx="347.30" cy="256.30" r="2.9" fill="#e9c662" fill-opacity="0.5"/>
<circle cx="357.30" cy="255.80" r="2.9" fill="#e9c662" fill-opacity="0.5"/>
<circle cx="350.30" cy="254.80" r="2.9" fill="#e9c662" fill-opacity="0.5"/>
<circle cx="344.30" cy="255.80" r="2.9" fill="#e9c662" fill-opacity="0.5"/>
<circle cx="332.10" cy="254.50" r="2.9" fill="#e9c662" fill-opacity="0.5"/>
<circle cx="337.60" cy="256.60" r="2.9" fill="#e9c662" fill-opacity="0.5"/>
<circle cx="343.10" cy="256.40" r="2.9" fill="#e9c662" fill-opacity="0.5"/>
<circle cx="344.40" cy="253.90" r="2.9" fill="#e9c662" fill-opacity="0.5"/>
<circle cx="346.80" cy="257.00" r="2.9" fill="#e9c662" fill-opacity="0.5"/>
<circle cx="351.10" cy="253.30" r="2.9" fill="#e9c662" fill-opacity="0.5"/>
<circle cx="362.80" cy="254.20" r="2.9" fill="#e9c662" fill-opacity="0.5"/>
<circle cx="372.00" cy="257.00" r="2.9" fill="#e9c662" fill-opacity="0.5"/>
<circle cx="373.90" cy="255.80" r="2.9" fill="#e9c662" fill-opacity="0.5"/>
<circle cx="378.20" cy="254.50" r="2.9" fill="#e9c662" fill-opacity="0.5"/>
<circle cx="386.30" cy="253.80" r="2.9" fill="#e9c662" fill-opacity="0.5"/>
<circle cx="406.00" cy="254.50" r="2.9" fill="#e9c662" fill-opacity="0.5"/>
<circle cx="338.30" cy="269.30" r="2.9" fill="#9a3f55" fill-opacity="0.5"/>
<circle cx="344.70" cy="269.90" r="2.9" fill="#9a3f55" fill-opacity="0.5"/>
<circle cx="342.30" cy="268.80" r="2.9" fill="#9a3f55" fill-opacity="0.5"/>
<circle cx="351.30" cy="268.80" r="2.9" fill="#9a3f55" fill-opacity="0.5"/>
<circle cx="356.30" cy="269.30" r="2.9" fill="#9a3f55" fill-opacity="0.5"/>
<circle cx="332.50" cy="269.30" r="2.9" fill="#9a3f55" fill-opacity="0.5"/>
<circle cx="332.90" cy="268.70" r="2.9" fill="#9a3f55" fill-opacity="0.5"/>
<circle cx="332.10" cy="269.90" r="2.9" fill="#9a3f55" fill-opacity="0.5"/>
<circle cx="333.10" cy="269.80" r="2.9" fill="#9a3f55" fill-opacity="0.5"/>
<circle cx="335.70" cy="267.60" r="2.9" fill="#9a3f55" fill-opacity="0.5"/>
<circle cx="336.10" cy="267.00" r="2.9" fill="#9a3f55" fill-opacity="0.5"/>
<circle cx="338.40" cy="269.70" r="2.9" fill="#9a3f55" fill-opacity="0.5"/>
<circle cx="338.80" cy="269.10" r="2.9" fill="#9a3f55" fill-opacity="0.5"/>
<circle cx="342.30" cy="269.30" r="2.9" fill="#9a3f55" fill-opacity="0.5"/>
<circle cx="342.70" cy="268.70" r="2.9" fill="#9a3f55" fill-opacity="0.5"/>
<circle cx="351.40" cy="267.60" r="2.9" fill="#9a3f55" fill-opacity="0.5"/>
<circle cx="354.60" cy="270.30" r="2.9" fill="#9a3f55" fill-opacity="0.5"/>
<circle cx="357.90" cy="268.00" r="2.9" fill="#9a3f55" fill-opacity="0.5"/>
<circle cx="361.60" cy="270.30" r="2.9" fill="#9a3f55" fill-opacity="0.5"/>
<circle cx="370.30" cy="267.80" r="2.9" fill="#9a3f55" fill-opacity="0.5"/>
<circle cx="331.80" cy="282.00" r="2.9" fill="#000000" fill-opacity="0.5"/>
<circle cx="331.60" cy="285.30" r="2.9" fill="#000000" fill-opacity="0.5"/>
<circle cx="333.30" cy="283.30" r="2.9" fill="#000000" fill-opacity="0.5"/>
<circle cx="338.30" cy="282.50" r="2.9" fill="#000000" fill-opacity="0.5"/>
<circle cx="340.30" cy="284.90" r="2.9" fill="#000000" fill-opacity="0.5"/>
<circle cx="339.80" cy="285.10" r="2.9" fill="#000000" fill-opacity="0.5"/>
<circle cx="332.10" cy="283.60" r="2.9" fill="#000000" fill-opacity="0.5"/>
<circle cx="332.50" cy="283.00" r="2.9" fill="#000000" fill-opacity="0.5"/>
<circle cx="331.70" cy="284.20" r="2.9" fill="#000000" fill-opacity="0.5"/>
<circle cx="332.70" cy="284.10" r="2.9" fill="#000000" fill-opacity="0.5"/>
<circle cx="331.60" cy="283.10" r="2.9" fill="#000000" fill-opacity="0.5"/>
<circle cx="332.30" cy="284.50" r="2.9" fill="#000000" fill-opacity="0.5"/>
<circle cx="331.90" cy="282.70" r="2.9" fill="#000000" fill-opacity="0.5"/>
<circle cx="332.90" cy="283.60" r="2.9" fill="#000000" fill-opacity="0.5"/>
<circle cx="334.30" cy="283.30" r="2.9" fill="#000000" fill-opacity="0.5"/>
<circle cx="334.70" cy="282.70" r="2.9" fill="#000000" fill-opacity="0.5"/>
<circle cx="333.90" cy="283.90" r="2.9" fill="#000000" fill-opacity="0.5"/>
<circle cx="336.80" cy="283.80" r="2.9" fill="#000000" fill-opacity="0.5"/>
<circle cx="337.20" cy="283.20" r="2.9" fill="#000000" fill-opacity="0.5"/>
<circle cx="336.40" cy="284.40" r="2.9" fill="#000000" fill-opacity="0.5"/>
<circle cx="366.30" cy="308.80" r="2.9" fill="#e9c662" fill-opacity="0.5"/>
<circle cx="341.30" cy="308.80" r="2.9" fill="#e9c662" fill-opacity="0.5"/>
<circle cx="351.30" cy="308.80" r="2.9" fill="#e9c662" fill-opacity="0.5"/>
<circle cx="354.30" cy="308.30" r="2.9" fill="#e9c662" fill-opacity="0.5"/>
<circle cx="361.00" cy="309.10" r="2.9" fill="#e9c662" fill-opacity="0.5"/>
<circle cx="368.30" cy="309.80" r="2.9" fill="#e9c662" fill-opacity="0.5"/>
<circle cx="332.10" cy="308.10" r="2.9" fill="#e9c662" fill-opacity="0.5"/>
<circle cx="335.80" cy="310.00" r="2.9" fill="#e9c662" fill-opacity="0.5"/>
<circle cx="337.60" cy="306.90" r="2.9" fill="#e9c662" fill-opacity="0.5"/>
<circle cx="340.70" cy="308.10" r="2.9" fill="#e9c662" fill-opacity="0.5"/>
<circle cx="343.10" cy="309.40" r="2.9" fill="#e9c662" fill-opacity="0.5"/>
<circle cx="349.90" cy="309.40" r="2.9" fill="#e9c662" fill-opacity="0.5"/>
<circle cx="351.70" cy="307.20" r="2.9" fill="#e9c662" fill-opacity="0.5"/>
<circle cx="354.80" cy="309.40" r="2.9" fill="#e9c662" fill-opacity="0.5"/>
<circle cx="357.30" cy="308.10" r="2.9" fill="#e9c662" fill-opacity="0.5"/>
<circle cx="366.50" cy="308.80" r="2.9" fill="#e9c662" fill-opacity="0.5"/>
<circle cx="368.90" cy="310.60" r="2.9" fill="#e9c662" fill-opacity="0.5"/>
<circle cx="405.50" cy="309.90" r="2.9" fill="#e9c662" fill-opacity="0.5"/>
<circle cx="405.90" cy="309.70" r="2.9" fill="#e9c662" fill-opacity="0.5"/>
<circle cx="435.50" cy="310.60" r="2.9" fill="#e9c662" fill-opacity="0.5"/>
<circle cx="332.10" cy="322.60" r="2.9" fill="#9a3f55" fill-opacity="0.5"/>
<circle cx="332.50" cy="322.00" r="2.9" fill="#9a3f55" fill-opacity="0.5"/>
<circle cx="331.70" cy="323.20" r="2.9" fill="#9a3f55" fill-opacity="0.5"/>
<circle cx="332.70" cy="323.10" r="2.9" fill="#9a3f55" fill-opacity="0.5"/>
<circle cx="331.60" cy="322.10" r="2.9" fill="#9a3f55" fill-opacity="0.5"/>
<circle cx="332.30" cy="323.50" r="2.9" fill="#9a3f55" fill-opacity="0.5"/>
<circle cx="335.70" cy="322.60" r="2.9" fill="#9a3f55" fill-opacity="0.5"/>
<circle cx="336.10" cy="322.00" r="2.9" fill="#9a3f55" fill-opacity="0.5"/>
<circle cx="335.30" cy="323.20" r="2.9" fill="#9a3f55" fill-opacity="0.5"/>
<circle cx="339.00" cy="322.60" r="2.9" fill="#9a3f55" fill-opacity="0.5"/>
<circle cx="339.40" cy="322.00" r="2.9" fill="#9a3f55" fill-opacity="0.5"/>
<circle cx="342.30" cy="323.00" r="2.9" fill="#9a3f55" fill-opacity="0.5"/>
<circle cx="342.70" cy="322.40" r="2.9" fill="#9a3f55" fill-opacity="0.5"/>
<circle cx="345.30" cy="323.00" r="2.9" fill="#9a3f55" fill-opacity="0.5"/>
<circle cx="349.10" cy="324.40" r="2.9" fill="#9a3f55" fill-opacity="0.5"/>
<circle cx="350.60" cy="324.40" r="2.9" fill="#9a3f55" fill-opacity="0.5"/>
<circle cx="351.00" cy="323.80" r="2.9" fill="#9a3f55" fill-opacity="0.5"/>
<circle cx="355.30" cy="324.30" r="2.9" fill="#9a3f55" fill-opacity="0.5"/>
<circle cx="364.40" cy="322.90" r="2.9" fill="#9a3f55" fill-opacity="0.5"/>
<circle cx="375.50" cy="322.30" r="2.9" fill="#9a3f55" fill-opacity="0.5"/>
<circle cx="331.00" cy="335.50" r="2.9" fill="#000000" fill-opacity="0.5"/>
<circle cx="331.00" cy="339.10" r="2.9" fill="#000000" fill-opacity="0.5"/>
<circle cx="331.80" cy="337.30" r="2.9" fill="#000000" fill-opacity="0.5"/>
<circle cx="338.70" cy="338.60" r="2.9" fill="#000000" fill-opacity="0.5"/>
<circle cx="340.70" cy="336.30" r="2.9" fill="#000000" fill-opacity="0.5"/>
<circle cx="340.50" cy="336.50" r="2.9" fill="#000000" fill-opacity="0.5"/>
<circle cx="331.90" cy="337.30" r="2.9" fill="#000000" fill-opacity="0.5"/>
<circle cx="332.30" cy="336.70" r="2.9" fill="#000000" fill-opacity="0.5"/>
<circle cx="331.50" cy="337.90" r="2.9" fill="#000000" fill-opacity="0.5"/>
<circle cx="332.50" cy="337.80" r="2.9" fill="#000000" fill-opacity="0.5"/>
<circle cx="331.40" cy="336.80" r="2.9" fill="#000000" fill-opacity="0.5"/>
<circle cx="332.10" cy="338.20" r="2.9" fill="#000000" fill-opacity="0.5"/>
<circle cx="331.70" cy="336.40" r="2.9" fill="#000000" fill-opacity="0.5"/>
<circle cx="332.70" cy="337.30" r="2.9" fill="#000000" fill-opacity="0.5"/>
<circle cx="333.80" cy="337.30" r="2.9" fill="#000000" fill-opacity="0.5"/>
<circle cx="334.20" cy="336.70" r="2.9" fill="#000000" fill-opacity="0.5"/>
<circle cx="333.40" cy="337.90" r="2.9" fill="#000000" fill-opacity="0.5"/>
<circle cx="335.80" cy="337.30" r="2.9" fill="#000000" fill-opacity="0.5"/>
<circle cx="336.20" cy="336.70" r="2.9" fill="#000000" fill-opacity="0.5"/>
<circle cx="335.40" cy="337.90" r="2.9" fill="#000000" fill-opacity="0.5"/>
<path d="M449.0 86.9L453.9 94.7L449.0 102.5L444.1 94.7Z" fill="#e9c662"/>
<path d="M389.6 101.4L394.5 109.2L389.6 117.0L384.8 109.2Z" fill="#9a3f55"/>
<path d="M360.4 115.5L365.2 123.3L360.4 131.1L355.5 123.3Z" fill="#000000"/>
<path d="M424.5 140.7L429.4 148.5L424.5 156.3L419.6 148.5Z" fill="#e9c662"/>
<path d="M376.0 154.8L380.9 162.6L376.0 170.4L371.1 162.6Z" fill="#9a3f55"/>
<path d="M348.1 168.9L353.0 176.7L348.1 184.5L343.2 176.7Z" fill="#000000"/>
<path d="M388.4 194.0L393.2 201.8L388.4 209.6L383.5 201.8Z" fill="#e9c662"/>
<path d="M355.1 208.5L360.0 216.3L355.1 224.1L350.2 216.3Z" fill="#9a3f55"/>
<path d="M339.5 222.3L344.4 230.1L339.5 237.9L334.6 230.1Z" fill="#000000"/>
<path d="M357.2 247.7L362.1 255.5L357.2 263.3L352.3 255.5Z" fill="#e9c662"/>
<path d="M344.4 261.8L349.2 269.6L344.4 277.4L339.5 269.6Z" fill="#9a3f55"/>
<path d="M334.6 275.9L339.5 283.7L334.6 291.5L329.8 283.7Z" fill="#000000"/>
<path d="M360.7 301.0L365.6 308.8L360.7 316.6L355.8 308.8Z" fill="#e9c662"/>
<path d="M342.0 315.4L346.9 323.2L342.0 331.0L337.1 323.2Z" fill="#9a3f55"/>
<path d="M333.4 329.5L338.2 337.3L333.4 345.1L328.5 337.3Z" fill="#000000"/>
<rect x="326.5" y="69.5" width="166" height="11.8" rx="1.5" fill="#ffffff" fill-opacity="1" stroke="#d6d6d6" stroke-width="0.8"/>
<path d="M335.5 67.4L340.4 75.2L335.5 83.0L330.6 75.2Z" fill="#e9c662"/>
<path d="M391.1 67.4L396.0 75.2L391.1 83.0L386.2 75.2Z" fill="#9a3f55"/>
<path d="M447.4 67.4L452.3 75.2L447.4 83.0L442.6 75.2Z" fill="#000000"/>
<text x="0" y="0" font-family="Liberation Sans, sans-serif" font-size="11.6" fill="#262626" textLength="36.5" lengthAdjust="spacingAndGlyphs" transform="translate(13.1 234.8) rotate(-90)">Height</text>
<text x="169.35" y="17.40" font-family="Liberation Sans, sans-serif" font-size="16" font-weight="bold" fill="#000000" stroke="#000000" stroke-width="0.35" textLength="165.63" lengthAdjust="spacingAndGlyphs">Annual icing hours</text>
<text x="199.05" y="31.60" font-family="Liberation Sans, sans-serif" font-size="10" font-weight="normal" fill="#262626" stroke="#262626" stroke-width="0.15" textLength="107.65" lengthAdjust="spacingAndGlyphs">(Area 1: Kauhajoki)</text>
<text x="113.40" y="58.80" font-family="Liberation Sans, sans-serif" font-size="12.5" font-weight="bold" fill="#000000" stroke="#000000" stroke-width="0.35" textLength="73.83" lengthAdjust="spacingAndGlyphs">EC-EARTH</text>
<text x="25.35" y="78.00" font-family="Liberation Sans, sans-serif" font-size="13" font-weight="bold" fill="#000000" stroke="#000000" stroke-width="0.15" textLength="20.53" lengthAdjust="spacingAndGlyphs">(a)</text>
<text x="119.20" y="382.60" font-family="Liberation Sans, sans-serif" font-size="11.8" font-weight="normal" fill="#262626" stroke="#262626" stroke-width="0.15" textLength="61.62" lengthAdjust="spacingAndGlyphs">Icing hours</text>
<text x="65.75" y="366.40" font-family="Liberation Sans, sans-serif" font-size="11" font-weight="normal" fill="#262626" stroke="#262626" stroke-width="0.15" textLength="6.23" lengthAdjust="spacingAndGlyphs">0</text>
<text x="102.70" y="366.40" font-family="Liberation Sans, sans-serif" font-size="11" font-weight="normal" fill="#262626" stroke="#262626" stroke-width="0.15" textLength="28.04" lengthAdjust="spacingAndGlyphs">1000</text>
<text x="149.80" y="366.40" font-family="Liberation Sans, sans-serif" font-size="11" font-weight="normal" fill="#262626" stroke="#262626" stroke-width="0.15" textLength="27.85" lengthAdjust="spacingAndGlyphs">2000</text>
<text x="198.70" y="366.40" font-family="Liberation Sans, sans-serif" font-size="11" font-weight="normal" fill="#262626" stroke="#262626" stroke-width="0.15" textLength="27.47" lengthAdjust="spacingAndGlyphs">3000</text>
<text x="20.80" y="113.30" font-family="Liberation Sans, sans-serif" font-size="11.6" font-weight="normal" fill="#262626" stroke="#262626" stroke-width="0.15" textLength="36.05" lengthAdjust="spacingAndGlyphs">400 m</text>
<text x="20.80" y="166.75" font-family="Liberation Sans, sans-serif" font-size="11.6" font-weight="normal" fill="#262626" stroke="#262626" stroke-width="0.15" textLength="36.05" lengthAdjust="spacingAndGlyphs">300 m</text>
<text x="20.80" y="220.20" font-family="Liberation Sans, sans-serif" font-size="11.6" font-weight="normal" fill="#262626" stroke="#262626" stroke-width="0.15" textLength="36.05" lengthAdjust="spacingAndGlyphs">200 m</text>
<text x="20.80" y="273.65" font-family="Liberation Sans, sans-serif" font-size="11.6" font-weight="normal" fill="#262626" stroke="#262626" stroke-width="0.15" textLength="36.05" lengthAdjust="spacingAndGlyphs">100 m</text>
<text x="28.00" y="327.10" font-family="Liberation Sans, sans-serif" font-size="11.6" font-weight="normal" fill="#262626" stroke="#262626" stroke-width="0.15" textLength="28.67" lengthAdjust="spacingAndGlyphs">50 m</text>
<text x="78.85" y="77.50" font-family="Liberation Sans, sans-serif" font-size="8.2" font-weight="normal" fill="#262626" textLength="36.86" lengthAdjust="spacingAndGlyphs">1986-2005</text>
<text x="134.80" y="77.50" font-family="Liberation Sans, sans-serif" font-size="8.2" font-weight="normal" fill="#262626" textLength="36.03" lengthAdjust="spacingAndGlyphs">2041-2060</text>
<text x="190.60" y="77.50" font-family="Liberation Sans, sans-serif" font-size="8.2" font-weight="normal" fill="#262626" textLength="35.28" lengthAdjust="spacingAndGlyphs">2081-2100</text>
<text x="374.10" y="58.80" font-family="Liberation Sans, sans-serif" font-size="12.5" font-weight="bold" fill="#000000" stroke="#000000" stroke-width="0.35" textLength="78.22" lengthAdjust="spacingAndGlyphs">GFDL-CM3</text>
<text x="288.60" y="78.00" font-family="Liberation Sans, sans-serif" font-size="13" font-weight="bold" fill="#000000" stroke="#000000" stroke-width="0.15" textLength="21.63" lengthAdjust="spacingAndGlyphs">(b)</text>
<text x="382.40" y="382.60" font-family="Liberation Sans, sans-serif" font-size="11.8" font-weight="normal" fill="#262626" stroke="#262626" stroke-width="0.15" textLength="61.62" lengthAdjust="spacingAndGlyphs">Icing hours</text>
<text x="328.95" y="366.40" font-family="Liberation Sans, sans-serif" font-size="11" font-weight="normal" fill="#262626" stroke="#262626" stroke-width="0.15" textLength="6.05" lengthAdjust="spacingAndGlyphs">0</text>
<text x="365.90" y="366.40" font-family="Liberation Sans, sans-serif" font-size="11" font-weight="normal" fill="#262626" stroke="#262626" stroke-width="0.15" textLength="28.08" lengthAdjust="spacingAndGlyphs">1000</text>
<text x="413.00" y="366.40" font-family="Liberation Sans, sans-serif" font-size="11" font-weight="normal" fill="#262626" stroke="#262626" stroke-width="0.15" textLength="27.85" lengthAdjust="spacingAndGlyphs">2000</text>
<text x="461.90" y="366.40" font-family="Liberation Sans, sans-serif" font-size="11" font-weight="normal" fill="#262626" stroke="#262626" stroke-width="0.15" textLength="27.50" lengthAdjust="spacingAndGlyphs">3000</text>
<text x="283.90" y="113.30" font-family="Liberation Sans, sans-serif" font-size="11.6" font-weight="normal" fill="#262626" stroke="#262626" stroke-width="0.15" textLength="36.05" lengthAdjust="spacingAndGlyphs">400 m</text>
<text x="283.90" y="166.75" font-family="Liberation Sans, sans-serif" font-size="11.6" font-weight="normal" fill="#262626" stroke="#262626" stroke-width="0.15" textLength="36.05" lengthAdjust="spacingAndGlyphs">300 m</text>
<text x="283.90" y="220.20" font-family="Liberation Sans, sans-serif" font-size="11.6" font-weight="normal" fill="#262626" stroke="#262626" stroke-width="0.15" textLength="36.05" lengthAdjust="spacingAndGlyphs">200 m</text>
<text x="283.90" y="273.65" font-family="Liberation Sans, sans-serif" font-size="11.6" font-weight="normal" fill="#262626" stroke="#262626" stroke-width="0.15" textLength="36.05" lengthAdjust="spacingAndGlyphs">100 m</text>
<text x="291.10" y="327.10" font-family="Liberation Sans, sans-serif" font-size="11.6" font-weight="normal" fill="#262626" stroke="#262626" stroke-width="0.15" textLength="28.67" lengthAdjust="spacingAndGlyphs">50 m</text>
<text x="342.05" y="77.50" font-family="Liberation Sans, sans-serif" font-size="8.2" font-weight="normal" fill="#262626" textLength="36.84" lengthAdjust="spacingAndGlyphs">1986-2005</text>
<text x="398.00" y="77.50" font-family="Liberation Sans, sans-serif" font-size="8.2" font-weight="normal" fill="#262626" textLength="36.00" lengthAdjust="spacingAndGlyphs">2041-2060</text>
<text x="453.30" y="77.50" font-family="Liberation Sans, sans-serif" font-size="8.2" font-weight="normal" fill="#262626" textLength="36.23" lengthAdjust="spacingAndGlyphs">2081-2100</text>
</g>
</svg>
</body></html>
